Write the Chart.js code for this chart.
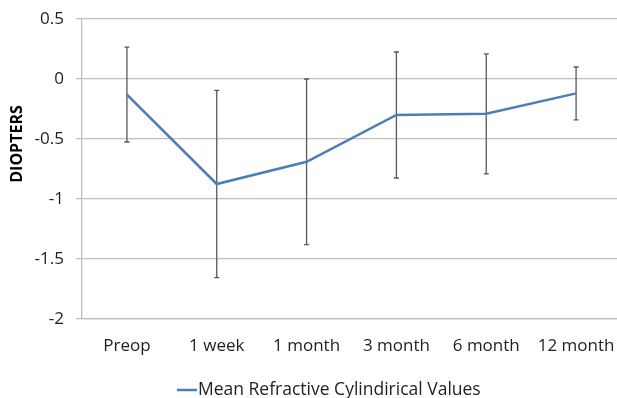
<!DOCTYPE html>
<html lang="en">
<head>
<meta charset="UTF-8">
<title>Mean Refractive Cylindirical Values</title>
<script src="https://cdn.jsdelivr.net/npm/chart.js"></script>
<style>
  html, body { margin: 0; padding: 0; background: #fff; overflow: hidden; }
  /* a bit wider than the window, the reference is cropped on the right */
  #wrap { width: 621px; height: 398px; }
</style>
</head>
<body>
<div id="wrap"><canvas id="myChart"></canvas></div>
<script>
// data
const periods = ['Preop', '1 week', '1 month', '3 month', '6 month', '12 month'];
const meanValues = [-0.13, -0.875, -0.69, -0.30, -0.29, -0.12];
const errorValues = [0.395, 0.78, 0.69, 0.525, 0.50, 0.22];
const yTicks = [0.5, 0, -0.5, -1, -1.5, -2];
const yTitle = 'DIOPTERS';
const seriesName = 'Mean Refractive Cylindirical Values';

const gridGray = '#bfbfbf';
const textColor = '#1f1f1f';
const lineBlue = '#4a7ebb';
const fontName = 'Open Sans';

// draws the vertical error bars with small caps
const errorBars = {
  id: 'errorBars',
  beforeDatasetsDraw(chart) {
    const ctx = chart.ctx;
    const x = chart.scales.x;
    const y = chart.scales.y;
    ctx.save();
    ctx.strokeStyle = '#595959';
    ctx.lineWidth = 1.3;
    for (let i = 0; i < periods.length; i++) {
      const px = x.getPixelForValue(i);
      const top = y.getPixelForValue(meanValues[i] + errorValues[i]);
      const bot = y.getPixelForValue(meanValues[i] - errorValues[i]);
      ctx.beginPath();
      ctx.moveTo(px, top); ctx.lineTo(px, bot);
      ctx.moveTo(px - 2.5, top); ctx.lineTo(px + 2.5, top);
      ctx.moveTo(px - 2.5, bot); ctx.lineTo(px + 2.5, bot);
      ctx.stroke();
    }
    ctx.restore();
  }
};

// axis title a bit above the middle and the legend a bit right of center, like the original
const extras = {
  id: 'extras',
  afterDraw(chart) {
    const ctx = chart.ctx;
    ctx.save();
    ctx.translate(17, 144);
    ctx.rotate(-Math.PI / 2);
    ctx.font = 'bold 16px "' + fontName + '"';
    ctx.fillStyle = '#000';
    ctx.textAlign = 'center';
    ctx.textBaseline = 'middle';
    ctx.fillText(yTitle, 0, 0);
    ctx.restore();

    ctx.save();
    ctx.strokeStyle = lineBlue;
    ctx.lineWidth = 2.5;
    ctx.beginPath();
    ctx.moveTo(177, 390);
    ctx.lineTo(197, 390);
    ctx.stroke();
    ctx.font = '17.5px "' + fontName + '"';
    ctx.fillStyle = textColor;
    ctx.textBaseline = 'middle';
    ctx.fillText(seriesName, 198, 390);
    ctx.restore();
  }
};

const ctx = document.getElementById('myChart');
const chart = new Chart(ctx, {
  type: 'line',
  data: {
    labels: periods,
    datasets: [{
      label: seriesName,
      data: meanValues,
      borderColor: lineBlue,
      backgroundColor: lineBlue,
      borderWidth: 2.5,
      pointRadius: 0,
      tension: 0
    }]
  },
  options: {
    responsive: true,
    maintainAspectRatio: false,
    animation: false,
    layout: { padding: { top: 19, right: 0, left: 0, bottom: 20 } },
    plugins: {
      tooltip: { enabled: false },
      legend: { display: false }
    },
    scales: {
      x: {
        offset: true,
        grid: { display: false, drawTicks: false },
        border: { color: gridGray, width: 1.3 },
        ticks: { color: textColor, padding: 17, font: { family: fontName, size: 17 }, maxRotation: 0 },
        afterFit(scale) {
          scale.height = 59;
          scale.paddingLeft = 0;
          scale.paddingRight = 0;
        }
      },
      y: {
        min: -2,
        max: 0.5,
        afterBuildTicks(scale) { scale.ticks = yTicks.map(v => ({ value: v })); },
        grid: { color: gridGray, lineWidth: 1.3, tickLength: 6 },
        border: { color: gridGray, width: 1.3 },
        ticks: {
          color: textColor,
          padding: 12,
          font: { family: fontName, size: 17 },
          callback: v => String(v)
        },
        afterFit(scale) {
          scale.width = 82;
          scale.paddingTop = 0;
          scale.paddingBottom = 0;
        }
      }
    }
  },
  plugins: [errorBars, extras]
});
</script>
</body>
</html>
